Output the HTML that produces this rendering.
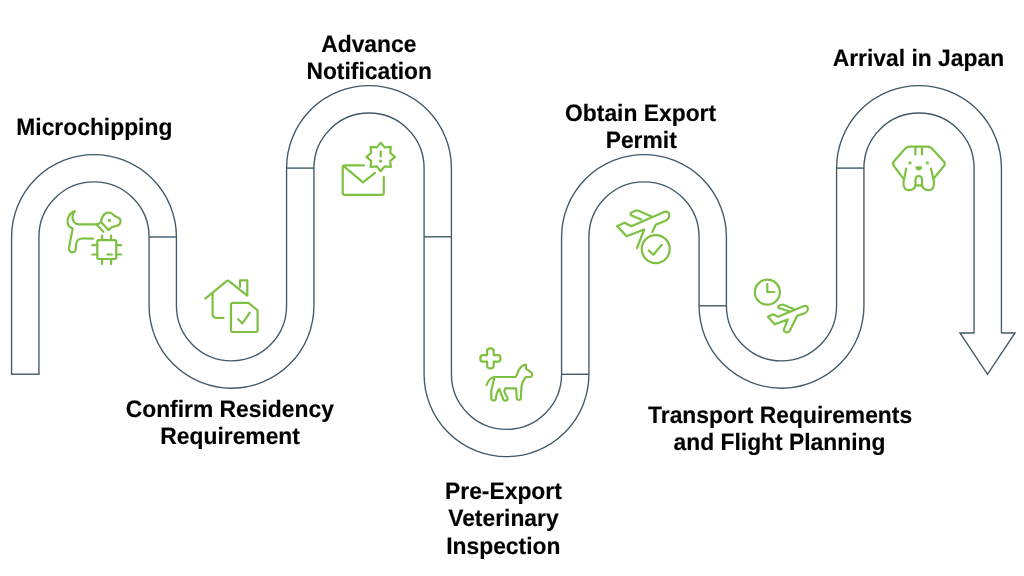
<!DOCTYPE html>
<html><head><meta charset="utf-8">
<style>
html,body{margin:0;padding:0;background:#fff;}
body{width:1024px;height:576px;overflow:hidden;position:relative;}
svg{position:absolute;left:0;top:0;will-change:transform;filter:blur(0.3px);}
text{font-family:"Liberation Sans",sans-serif;font-weight:bold;font-size:22.85px;fill:#000;stroke:#000;stroke-width:0.15px;text-rendering:geometricPrecision;}
</style></head><body>
<svg width="1024" height="576" viewBox="0 0 1024 576">
<g fill="none" stroke-linecap="butt" stroke-linejoin="miter">
<defs><path id="pipe" d="M25.25 374.2 L25.25 237 A68.75 68.75 0 0 1 162.75 237 L162.75 305.8 A68.75 68.75 0 0 0 300.25 305.8 L300.25 168.1 A68.75 68.75 0 0 1 437.75 168.1 L437.75 374.3 A68.75 68.75 0 0 0 575.25 374.3 L575.25 237 A68.75 68.75 0 0 1 712.75 237 L712.75 305.8 A68.75 68.75 0 0 0 850.25 305.8 L850.25 168.1 A68.75 68.75 0 0 1 987.75 168.1 L987.75 333.5"/></defs>
<use href="#pipe" stroke="#425866" stroke-width="28.7"/>
<use href="#pipe" stroke="#fff" stroke-width="26"/>
</g>
<g stroke="#425866" stroke-width="1.4" fill="none">
<line x1="11" y1="374.2" x2="39.5" y2="374.2"/>
<line x1="149" y1="237" x2="176.5" y2="237"/>
<line x1="286.5" y1="168.1" x2="314" y2="168.1"/>
<line x1="424" y1="236.8" x2="451.5" y2="236.8"/>
<line x1="561.5" y1="374.3" x2="589" y2="374.3"/>
<line x1="699" y1="305.8" x2="726.5" y2="305.8"/>
<line x1="836.5" y1="168.1" x2="864" y2="168.1"/>
<path d="M974.25 333 L960 333 L987.5 374.3 L1015 333 L1001.25 333" fill="#fff" stroke-linejoin="miter"/>
</g>

<g fill="none" stroke="#7dc042" stroke-width="2.2" stroke-linecap="round" stroke-linejoin="round">
<!-- icon1 dog + chip -->
<path d="M96.1 224.3 L78.5 224.3 C75 224.3 72.2 221 72.5 217 C72.7 214.5 73.5 212.8 74.6 211.8 C75 211.4 74.6 211 74 211.3 C69.5 213.5 66.8 218.5 67.6 223 C68 225.5 70 227.5 72.5 228.3 C72.7 228.4 72.6 229 72.5 229.6 L69 247.5 C68.5 250.5 70.5 252.3 72.5 252.3 C74.5 252.3 75.7 250.7 75.9 248.5 L76 244.5 C76.3 240.5 79 238.5 83 238.5 L93.1 238.6"/>
<path d="M96.1 224.3 L103.4 231.7 M96.1 224.3 Q98.8 224.2 100.9 222 L108.5 229.9"/>
<path d="M100.9 222 C101.5 218.5 103 215 105.8 213.3 C108 212 111.5 212.2 113.4 214.8 C114.5 216.2 116 216.8 117.5 217.2 C119.8 218 121 220 120.3 222.6 C119.7 224.8 117.5 225.8 115 226.2 C112.5 226.5 110.5 228 108.5 229.9"/>
<circle cx="109.4" cy="220.5" r="0.6" fill="#7dc042"/>
<rect x="97.3" y="240.2" width="19" height="18.8" rx="1.6"/>
<path d="M102.1 235.5 V240.2 M111.1 235.5 V240.2 M102.1 259 V264.1 M111.1 259 V264.1 M92.3 245.2 H97.4 M92.3 254.5 H97.4 M116.2 245.2 H121.3 M116.2 254.5 H121.3 M107.2 254.5 H111.9"/>
<!-- icon2 house + doc -->
<path d="M205.3 298.6 L226.6 281.2 Q227.8 280.2 229 281.2 L247.3 295.6 V280.4 H240 V286.8"/>
<path d="M212.6 293.1 V313.8 Q212.6 318 216.8 318 H223.6"/>
<path d="M233 302.8 H248.5 L257.6 310.4 V330 Q257.6 332 255.6 332 H233 Q231 332 231 330 V304.8 Q231 302.8 233 302.8 Z"/>
<path d="M238.2 319.2 L242.4 323.5 L249.7 312.6"/>
<!-- icon3 envelope + badge -->
<path d="M364 165.3 H344.7 Q342.7 165.3 342.7 167.3 V192.8 Q342.7 194.8 344.7 194.8 H381.8 Q383.8 194.8 383.8 192.8 V177"/>
<path d="M344.25 166.6 L363 182.3 L375 172.9"/>
<path d="M380.70 142.60 L384.64 147.38 L390.81 146.79 L390.22 152.96 L395.00 156.90 L390.22 160.84 L390.81 167.01 L384.64 166.42 L380.70 171.20 L376.76 166.42 L370.59 167.01 L371.18 160.84 L366.40 156.90 L371.18 152.96 L370.59 146.79 L376.76 147.38 Z"/>
<path d="M380.7 151.6 V156.6"/>
<circle cx="380.7" cy="161.1" r="0.6" fill="#7dc042"/>
<!-- icon4 plus + dog -->
<path d="M487.1 351 Q487.1 348.4 490.4 348.4 Q493.7 348.4 493.7 351 V355.1 H497.9 Q500.5 355.1 500.5 358.4 Q500.5 361.7 497.9 361.7 H493.7 V365.8 Q493.7 368.4 490.4 368.4 Q487.1 368.4 487.1 365.8 V361.7 H482.9 Q480.3 361.7 480.3 358.4 Q480.3 355.1 482.9 355.1 H487.1 Z"/>
<path d="M486.6 385 C488 381 490 377.5 494.5 377 L515.4 377 C517 376 517.5 373 518.5 370.5 C520 367.5 523 365 525.9 364.6 L525.9 368.6 L531.2 372.4 C533 373.8 532.3 376.8 530 377 L526 377 C524 379 522 383 521.5 387 L520.8 398.3 C520.7 400.5 517 400.5 516.8 398.5 L516.1 388.3 L505.2 388.3 C504.5 390 504.2 391.5 504.8 393 L507.5 398 C508.5 400.5 504.5 401.5 503.3 399.5 L499.3 389 C497.5 391 496.5 393.5 496.2 396 L495.8 398.8 C495.5 401 491.5 401 491.3 398.5 L491.3 391.5 C491.3 387.5 493.5 384 493.8 380 C493.9 378.5 494.2 377.5 494.5 377"/>
<!-- icon5 plane + check -->
<path d="M617.2 226.2 L624.5 222.7 L631.4 226.2 L664.1 211.9 C667 210.8 669.5 212.5 669.2 215.5 C669 218 667.5 219.8 665.5 220.8 L655.75 224.8 L652.3 232"/>
<path d="M617.2 226.2 L626.6 236.25 L644.1 229.5 L637 248"/>
<path d="M641.2 219.6 L631.5 215.5 C630 214.8 630.3 213.2 631.6 212.5 L636 210.6 C636.8 210.3 637.8 210.4 638.5 210.7 L651.6 216.5"/>
<circle cx="655.75" cy="249.05" r="14"/>
<path d="M648.75 250.4 L653.4 254.7 L661.6 244.9"/>
<!-- icon6 clock + plane -->
<circle cx="767.35" cy="292.2" r="12.5"/>
<path d="M767.3 284.1 V292 H774.3"/>
<path d="M768 316.7 L772.9 314.3 L778.1 316.7 L803.9 306.1 C806.5 305 808.3 306.8 807.8 309.5 C807.5 311.3 806.5 312.5 805.1 313.1 L797.2 315.8 L789.9 330.4 C789 332.3 786.5 332.8 785.1 331.9 C784 331.2 783.6 330.3 783.8 329.6 L787.8 319.45 L774.7 324.3 Z"/>
<path d="M789 311.2 L779.3 308.2 C777.8 307.7 777.7 306.4 779 305.8 L781.5 304.8 C782.3 304.5 783.3 304.6 784 304.9 L793.6 309.1"/>
<!-- icon7 dog face -->
<path d="M903.4 178.7 L893.8 165.8 C892.8 164.4 892.8 162.8 893.8 161.5 L905.3 148.6 C906.5 147.3 908 146.7 909.8 146.7 L927.5 146.7 C929.3 146.7 930.8 147.3 932 148.6 L944 161.8 C945 163 945 164.5 944 165.9 L933.9 178.2"/>
<path d="M906.2 168.65 L903.6 181.5 C903 186.5 904.8 190.1 908.8 190.1 C912.8 190.1 915.6 188 915.6 184 L915.5 180.3 C915.5 177.7 916.9 176 918.75 176 C920.6 176 922 177.7 922 180.3 L922 184 C922 188 924.8 190.1 928.8 190.1 C932.8 190.1 934.5 186.5 933.9 181.5 L931.1 168.65"/>
<path d="M915.6 185.3 H922"/>
<path d="M915.4 147 V154.6 M922 147 V154.6"/>
<circle cx="910.05" cy="162.9" r="0.6" fill="#7dc042"/>
<circle cx="927.25" cy="162.9" r="0.6" fill="#7dc042"/>
<path d="M916.6 167.4 H920.9 Q920.7 169.4 918.75 169.4 Q916.8 169.4 916.6 167.4 Z" fill="#7dc042"/>
</g>
<g>
<text transform="translate(94.3 134.85) scale(1 1.04)" text-anchor="middle">Microchipping</text>
<text transform="translate(368.8 51.90) scale(1 1.04)" text-anchor="middle">Advance</text>
<text transform="translate(369.2 79.10) scale(1 1.04)" text-anchor="middle">Notification</text>
<text transform="translate(640.6 120.70) scale(1 1.04)" text-anchor="middle">Obtain Export</text>
<text transform="translate(641.2 148.00) scale(1 1.04)" text-anchor="middle">Permit</text>
<text transform="translate(918.4 66.20) scale(1 1.04)" text-anchor="middle">Arrival in Japan</text>
<text transform="translate(229.8 416.50) scale(1 1.04)" text-anchor="middle">Confirm Residency</text>
<text transform="translate(230.1 443.70) scale(1 1.04)" text-anchor="middle">Requirement</text>
<text transform="translate(503.4 498.70) scale(1 1.04)" text-anchor="middle">Pre-Export</text>
<text transform="translate(503.4 526.10) scale(1 1.04)" text-anchor="middle">Veterinary</text>
<text transform="translate(503.3 553.90) scale(1 1.04)" text-anchor="middle">Inspection</text>
<text transform="translate(780.1 423.45) scale(1 1.04)" text-anchor="middle">Transport Requirements</text>
<text transform="translate(779.5 450.35) scale(1 1.04)" text-anchor="middle">and Flight Planning</text>
</g>
</svg>
</body></html>
